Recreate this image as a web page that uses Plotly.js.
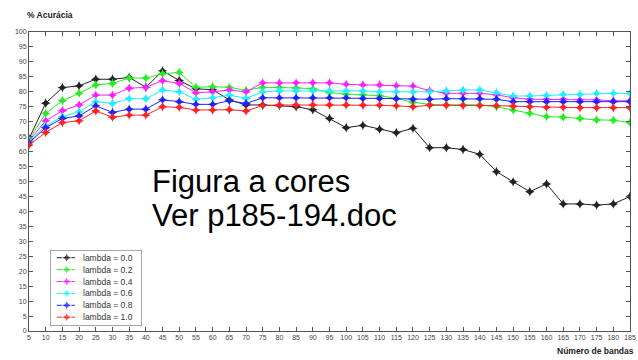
<!DOCTYPE html>
<html>
<head>
<meta charset="utf-8">
<script src="https://cdn.plot.ly/plotly-3.0.1.min.js"></script>
<style>html,body{margin:0;padding:0;background:#fff;}#chart{width:638px;height:360px;}</style>
</head>
<body>
<div id="chart"></div>
<script>
const bands = [5,10,15,20,25,30,35,40,45,50,55,60,65,70,75,80,85,90,95,100,105,110,115,120,125,130,135,140,145,150,155,160,165,170,175,180,185];
const lambda00 = [64.3,76.2,81.4,82.0,84.2,84.2,84.8,81.5,87.0,83.8,81.0,80.7,77.3,75.6,75.6,75.4,75.0,74.0,71.1,68.0,68.8,67.5,66.3,67.8,61.3,61.3,60.7,59.1,53.3,49.9,46.6,49.2,42.5,42.5,42.1,42.5,45.0];
const lambda02 = [64.0,72.8,77.0,79.5,82.3,82.8,84.6,84.6,86.0,86.5,81.5,81.7,81.5,80.5,81.5,81.5,81.3,81.0,79.8,79.2,79.0,78.7,77.8,76.5,75.8,75.6,75.7,75.6,75.0,73.9,72.8,71.7,71.5,71.1,70.6,70.5,69.7];
const lambda04 = [63.6,70.3,73.7,75.6,78.9,78.9,81.2,81.5,83.7,82.8,79.7,80.0,80.6,80.0,83.0,83.0,83.0,83.0,83.0,82.5,82.3,82.3,82.0,81.9,80.4,79.5,79.5,79.5,79.0,78.0,77.5,77.5,77.5,77.3,77.3,77.0,77.0];
const lambda06 = [63.4,68.6,71.7,73.3,76.7,76.1,77.7,77.7,80.6,80.0,77.5,78.0,78.9,77.8,80.0,80.3,80.3,80.3,80.3,80.3,80.3,80.0,80.0,80.0,80.0,80.3,80.6,80.6,79.7,78.6,78.6,78.8,79.1,79.1,79.5,79.5,79.5];
const lambda08 = [63.0,68.0,71.1,71.9,75.3,73.1,74.2,74.2,77.3,76.7,75.8,75.8,77.0,76.1,78.0,78.0,78.0,78.0,78.0,78.0,77.8,77.8,77.7,77.5,77.5,77.7,77.7,77.7,77.5,76.7,76.7,76.7,76.7,76.7,76.7,76.7,76.7];
const lambda10 = [62.2,66.4,69.7,70.3,73.6,71.5,72.2,72.2,75.0,74.8,73.9,73.9,74.0,73.6,75.4,75.6,75.6,75.6,75.6,75.6,75.5,75.5,75.3,75.0,75.5,75.5,75.4,75.4,75.4,75.2,75.0,74.8,74.8,74.7,74.7,74.7,74.7];
const seriesNames = ["lambda = 0.0","lambda = 0.2","lambda = 0.4","lambda = 0.6","lambda = 0.8","lambda = 1.0"];
const seriesValues = [lambda00,lambda02,lambda04,lambda06,lambda08,lambda10];
const seriesColors = ["#222222","#22ee22","#ff22ff","#22eeff","#2222ff","#ff2222"];
const yTicks = [0,5,10,15,20,25,30,35,40,45,50,55,60,65,70,75,80,85,90,95,100];

const traces = [];
seriesValues.forEach((vals,i)=>{
  traces.push({x:bands,y:vals,type:'scatter',mode:'lines+markers',name:seriesNames[i],
    line:{color:seriesColors[i],width:1},
    marker:{symbol:'star-diamond',size:7,color:seriesColors[i]},showlegend:false,hoverinfo:'skip'});
});

// custom compact legend drawn on its own small axes
const LW = 92, LH = 76, rowGap = 11.9, firstRow = 7.7;
const annotations = [];
seriesNames.forEach((nm,i)=>{
  const yy = firstRow + i*rowGap;
  traces.push({x:[6.7,16.7,25],y:[yy,yy,yy],xaxis:'x2',yaxis:'y2',type:'scatter',mode:'lines+markers',
    line:{color:seriesColors[i],width:1},marker:{symbol:'star-diamond',size:[0,7,0],color:seriesColors[i]},
    showlegend:false,hoverinfo:'skip'});
  annotations.push({xref:'x2',yref:'y2',x:30.5,y:yy,text:nm,showarrow:false,xanchor:'left',yanchor:'middle',
    font:{family:'Liberation Sans, Arial',size:8.5,color:'#333'}});
});

annotations.push({xref:'paper',yref:'paper',x:-0.007,y:1.035,text:'<b>% Acurácia</b>',showarrow:false,
  xanchor:'left',yanchor:'bottom',font:{family:'Liberation Sans, Arial',size:8.5,color:'#222'}});
annotations.push({xref:'paper',yref:'paper',x:1.01,y:(331-358)/299,text:'<b>Número de bandas</b>',showarrow:false,
  xanchor:'right',yanchor:'bottom',font:{family:'Liberation Sans, Arial',size:8.5,color:'#222'}});
annotations.push({xref:'paper',yref:'paper',x:(150-29)/601,y:(331-181)/299,text:'Figura a cores',showarrow:false,
  xanchor:'left',yanchor:'middle',font:{family:'Liberation Sans, Arial',size:31,color:'#000'}});
annotations.push({xref:'paper',yref:'paper',x:(150-29)/601,y:(331-215)/299,text:'Ver p185-194.doc',showarrow:false,
  xanchor:'left',yanchor:'middle',font:{family:'Liberation Sans, Arial',size:31,color:'#000'}});

const layout = {
  width:638,height:360,
  margin:{l:29,r:8,t:32,b:29},
  paper_bgcolor:'#fff',plot_bgcolor:'#fff',
  showlegend:false,
  font:{family:'Liberation Sans, Arial',size:7,color:'#444'},
  xaxis:{range:[5,185],tickmode:'array',tickvals:bands,ticktext:bands.map(String),tickangle:0,
    ticks:'inside',ticklen:4,tickcolor:'#555',showline:true,linecolor:'#555',linewidth:1,mirror:'ticks',
    showgrid:false,zeroline:false,tickfont:{size:7,color:'#444'}},
  yaxis:{range:[0,100],tickmode:'array',tickvals:yTicks,ticktext:yTicks.map(String),
    ticks:'inside',ticklen:4,tickcolor:'#555',showline:true,linecolor:'#555',linewidth:1,mirror:'ticks',
    showgrid:false,zeroline:false,tickfont:{size:7,color:'#444'}},
  xaxis2:{domain:[(50-29)/601,(50-29+LW)/601],range:[0,LW],visible:false,fixedrange:true},
  yaxis2:{domain:[(331-250-LH)/299,(331-250)/299],range:[LH,0],visible:false,fixedrange:true},
  shapes:[{type:'rect',xref:'x2',yref:'y2',x0:0,x1:LW,y0:0,y1:LH,line:{color:'#555',width:1},fillcolor:'rgba(0,0,0,0)'}],
  annotations:annotations
};
Plotly.newPlot('chart',traces,layout,{staticPlot:true,displayModeBar:false});
</script>
</body>
</html>
